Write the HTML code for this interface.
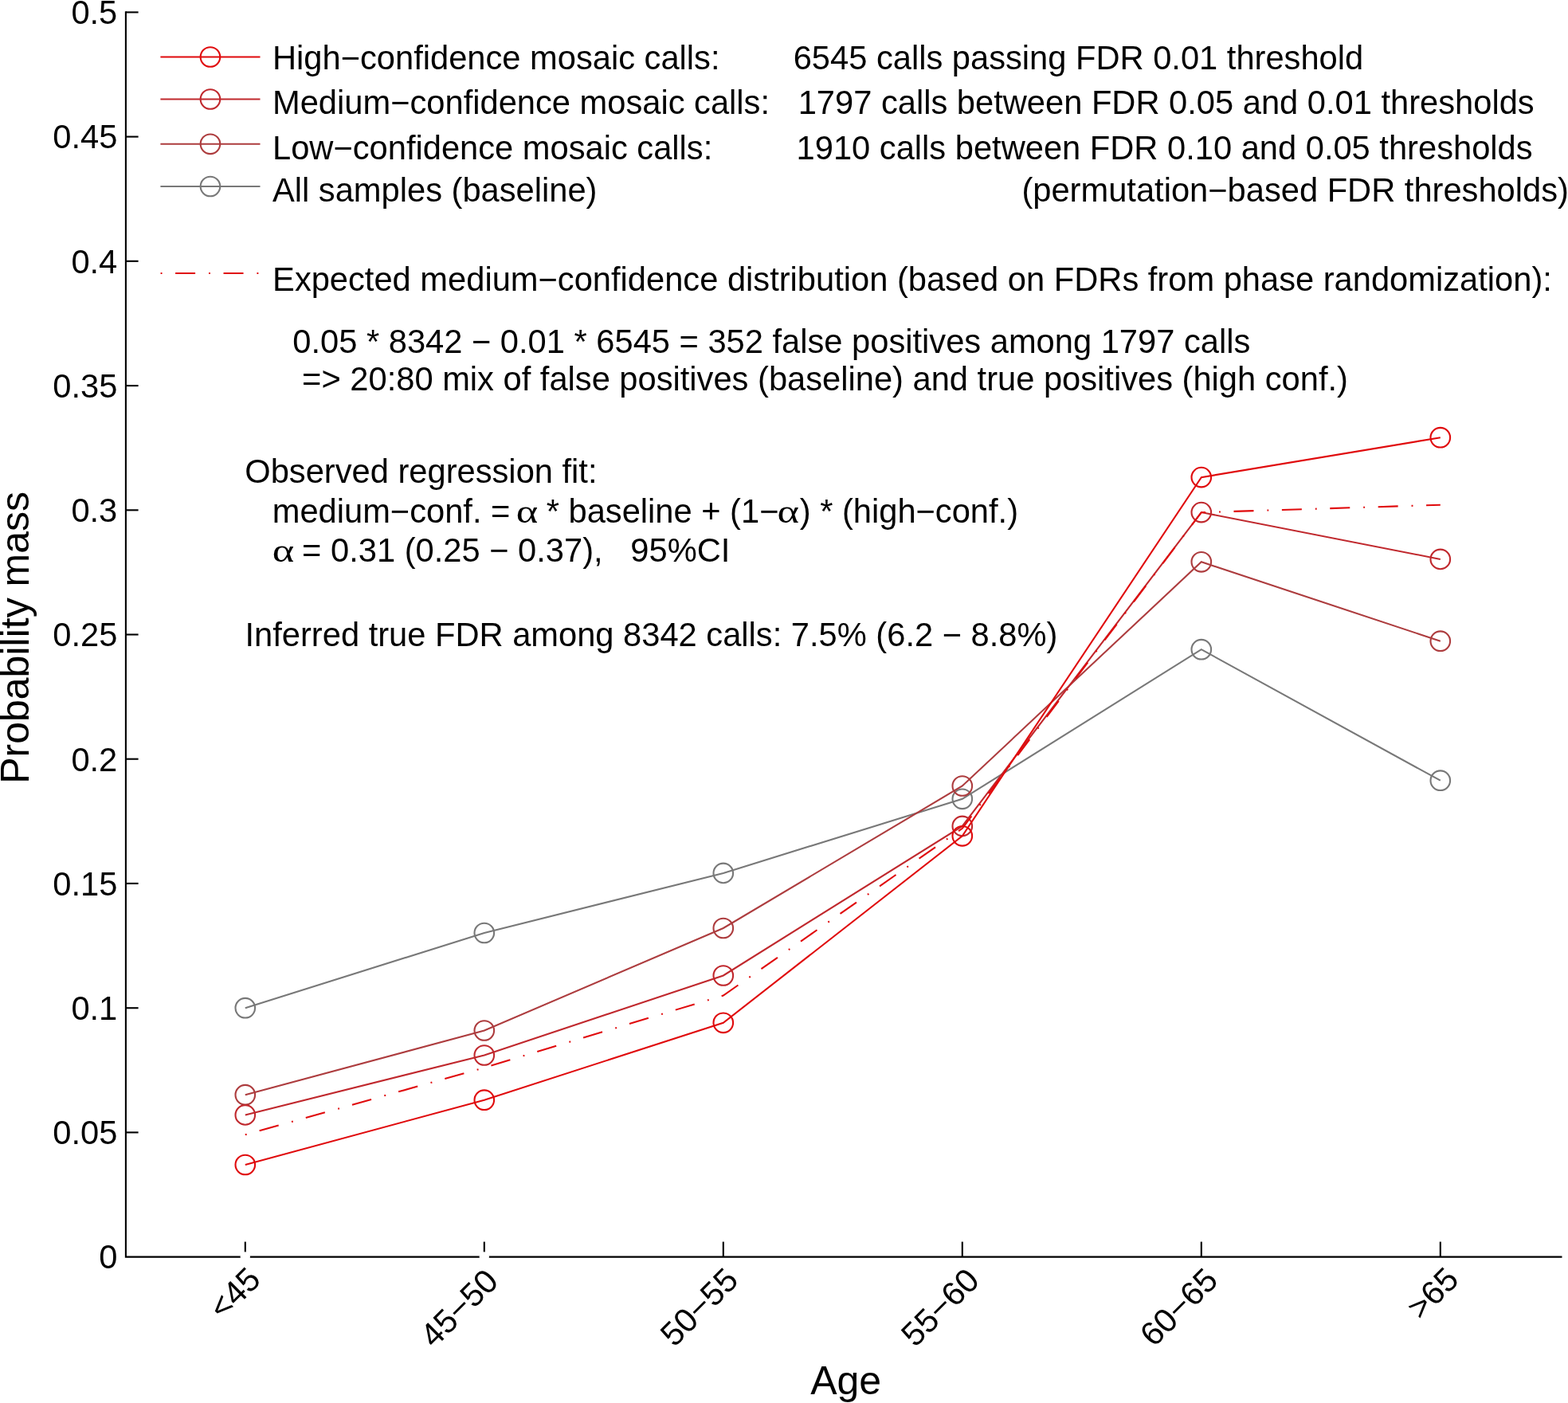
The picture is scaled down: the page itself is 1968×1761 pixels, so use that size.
<!DOCTYPE html><html><head><meta charset="utf-8"><title>Probability mass by age</title>
<style>html,body{margin:0;padding:0;background:#fff;}body{width:1968px;height:1761px;overflow:hidden;}svg{display:block;}text{font-family:"Liberation Sans", Arial, Helvetica, sans-serif;font-kerning:none;fill:#000;white-space:pre;}.s{font-family:"Liberation Serif", "Times New Roman", serif;}</style></head><body>
<svg width="1968" height="1761" viewBox="0 0 1968 1761">
<rect width="1968" height="1761" fill="#fff"/>
<g stroke="#000" stroke-width="2.1" fill="none" stroke-linecap="butt">
<path d="M157.9 14.3 V1577.6 H1960.5"/>
<path d="M157.9 15.4 H173.6"/>
<path d="M157.9 171.6 H173.6"/>
<path d="M157.9 327.8 H173.6"/>
<path d="M157.9 484.1 H173.6"/>
<path d="M157.9 640.3 H173.6"/>
<path d="M157.9 796.5 H173.6"/>
<path d="M157.9 952.7 H173.6"/>
<path d="M157.9 1108.9 H173.6"/>
<path d="M157.9 1265.2 H173.6"/>
<path d="M157.9 1421.4 H173.6"/>
<path d="M307.8 1558.6 V1577.6"/>
<path d="M607.8 1558.6 V1577.6"/>
<path d="M907.8 1558.6 V1577.6"/>
<path d="M1207.8 1558.6 V1577.6"/>
<path d="M1507.8 1558.6 V1577.6"/>
<path d="M1807.8 1558.6 V1577.6"/>
</g>
<circle cx="307.8" cy="1577.4" r="6.2" fill="#fff"/>
<circle cx="607.8" cy="1577.4" r="6.2" fill="#fff"/>
<g font-size="41.67" text-anchor="end">
<text x="147.3" y="30.2">0.5</text>
<text x="147.3" y="186.4">0.45</text>
<text x="147.3" y="342.6">0.4</text>
<text x="147.3" y="498.9">0.35</text>
<text x="147.3" y="655.1">0.3</text>
<text x="147.3" y="811.3">0.25</text>
<text x="147.3" y="967.5">0.2</text>
<text x="147.3" y="1123.7">0.15</text>
<text x="147.3" y="1280.0">0.1</text>
<text x="147.3" y="1436.2">0.05</text>
<text x="147.3" y="1592.4">0</text>
</g>
<g font-size="41.67" text-anchor="end">
<text transform="translate(329.4 1608.3) rotate(-45)">&lt;45</text>
<text transform="translate(627.6 1610.5) rotate(-45)">45−50</text>
<text transform="translate(928.9 1609.2) rotate(-45)">50−55</text>
<text transform="translate(1231.3 1609.6) rotate(-45)">55−60</text>
<text transform="translate(1530.9 1609.3) rotate(-45)">60−65</text>
<text transform="translate(1833.1 1608.3) rotate(-45)">&gt;65</text>
</g>
<text x="1017.2" y="1749.6" font-size="50">Age</text>
<text transform="translate(36.0 983.8) rotate(-90)" font-size="50">Probability mass</text>
<polyline points="307.8,1265.2 607.8,1171.0 907.8,1095.9 1207.8,1002.8 1507.8,815.2 1807.8,979.7" fill="none" stroke="#787878" stroke-width="2.08" stroke-linejoin="miter" />
<circle cx="307.8" cy="1265.2" r="12.3" fill="none" stroke="#787878" stroke-width="2.08"/><circle cx="607.8" cy="1171.0" r="12.3" fill="none" stroke="#787878" stroke-width="2.08"/><circle cx="907.8" cy="1095.9" r="12.3" fill="none" stroke="#787878" stroke-width="2.08"/><circle cx="1207.8" cy="1002.8" r="12.3" fill="none" stroke="#787878" stroke-width="2.08"/><circle cx="1507.8" cy="815.2" r="12.3" fill="none" stroke="#787878" stroke-width="2.08"/><circle cx="1807.8" cy="979.7" r="12.3" fill="none" stroke="#787878" stroke-width="2.08"/>
<polyline points="307.8,1374.2 607.8,1293.5 907.8,1165.0 1207.8,986.5 1507.8,705.3 1807.8,804.7" fill="none" stroke="#ad3c3e" stroke-width="2.08" stroke-linejoin="miter" />
<circle cx="307.8" cy="1374.2" r="12.3" fill="none" stroke="#ad3c3e" stroke-width="2.08"/><circle cx="607.8" cy="1293.5" r="12.3" fill="none" stroke="#ad3c3e" stroke-width="2.08"/><circle cx="907.8" cy="1165.0" r="12.3" fill="none" stroke="#ad3c3e" stroke-width="2.08"/><circle cx="1207.8" cy="986.5" r="12.3" fill="none" stroke="#ad3c3e" stroke-width="2.08"/><circle cx="1507.8" cy="705.3" r="12.3" fill="none" stroke="#ad3c3e" stroke-width="2.08"/><circle cx="1807.8" cy="804.7" r="12.3" fill="none" stroke="#ad3c3e" stroke-width="2.08"/>
<polyline points="307.8,1399.4 607.8,1324.5 907.8,1224.5 1207.8,1036.9 1507.8,643.1 1807.8,701.9" fill="none" stroke="#c0282d" stroke-width="2.08" stroke-linejoin="miter" />
<circle cx="307.8" cy="1399.4" r="12.3" fill="none" stroke="#c0282d" stroke-width="2.08"/><circle cx="607.8" cy="1324.5" r="12.3" fill="none" stroke="#c0282d" stroke-width="2.08"/><circle cx="907.8" cy="1224.5" r="12.3" fill="none" stroke="#c0282d" stroke-width="2.08"/><circle cx="1207.8" cy="1036.9" r="12.3" fill="none" stroke="#c0282d" stroke-width="2.08"/><circle cx="1507.8" cy="643.1" r="12.3" fill="none" stroke="#c0282d" stroke-width="2.08"/><circle cx="1807.8" cy="701.9" r="12.3" fill="none" stroke="#c0282d" stroke-width="2.08"/>
<polyline points="307.8,1424.3 607.8,1340.1 907.8,1249.5 1207.8,1039.8 1507.8,643.2 1807.8,633.7" fill="none" stroke="#e00a0c" stroke-width="2.08" stroke-linejoin="miter" stroke-dasharray="1.9 16.6 25.0 16.92"/>
<polyline points="307.8,1462.0 607.8,1380.7 907.8,1283.8 1207.8,1049.3 1507.8,599.1 1807.8,549.2" fill="none" stroke="#e00a0c" stroke-width="2.08" stroke-linejoin="miter" />
<circle cx="307.8" cy="1462.0" r="12.3" fill="none" stroke="#e00a0c" stroke-width="2.08"/><circle cx="607.8" cy="1380.7" r="12.3" fill="none" stroke="#e00a0c" stroke-width="2.08"/><circle cx="907.8" cy="1283.8" r="12.3" fill="none" stroke="#e00a0c" stroke-width="2.08"/><circle cx="1207.8" cy="1049.3" r="12.3" fill="none" stroke="#e00a0c" stroke-width="2.08"/><circle cx="1507.8" cy="599.1" r="12.3" fill="none" stroke="#e00a0c" stroke-width="2.08"/><circle cx="1807.8" cy="549.2" r="12.3" fill="none" stroke="#e00a0c" stroke-width="2.08"/>
<path d="M201.4 71.5 H326.5" stroke="#e00a0c" stroke-width="2.08" fill="none"/>
<circle cx="263.95" cy="71.5" r="12.3" fill="none" stroke="#e00a0c" stroke-width="2.08"/>
<path d="M201.4 124.5 H326.5" stroke="#c0282d" stroke-width="2.08" fill="none"/>
<circle cx="263.95" cy="124.5" r="12.3" fill="none" stroke="#c0282d" stroke-width="2.08"/>
<path d="M201.4 180.8 H326.5" stroke="#ad3c3e" stroke-width="2.08" fill="none"/>
<circle cx="263.95" cy="180.8" r="12.3" fill="none" stroke="#ad3c3e" stroke-width="2.08"/>
<path d="M201.4 234.0 H326.5" stroke="#787878" stroke-width="2.08" fill="none"/>
<circle cx="263.95" cy="234.0" r="12.3" fill="none" stroke="#787878" stroke-width="2.08"/>
<path d="M201.6 343.0 H326.5" stroke="#e00a0c" stroke-width="2.08" fill="none" stroke-dasharray="1.9 16.6 25.0 16.92"/>
<g font-size="41.67"><text x="342.0" y="87.1">High−confidence mosaic calls:</text><text x="995.7" y="87.1">6545 calls passing FDR 0.01 threshold</text><text x="342.0" y="143.4">Medium−confidence mosaic calls:</text><text x="1001.7" y="143.4">1797 calls between FDR 0.05 and 0.01 thresholds</text><text x="342.0" y="199.6">Low−confidence mosaic calls:</text><text x="999.6" y="199.6">1910 calls between FDR 0.10 and 0.05 thresholds</text><text x="342.0" y="252.7">All samples (baseline)</text><text x="1282.4" y="252.7">(permutation−based FDR thresholds)</text><text x="342.1" y="365.1">Expected medium−confidence distribution (based on FDRs from phase randomization):</text><text x="367.3" y="443.0">0.05 * 8342 − 0.01 * 6545 = 352 false positives among 1797 calls</text><text x="379.1" y="489.7">=&gt; 20:80 mix of false positives (baseline) and true positives (high conf.)</text><text x="307.3" y="605.7">Observed regression fit:</text><text x="307.5" y="811.4">Inferred true FDR among 8342 calls: 7.5% (6.2 − 8.8%)</text></g>
<g font-size="41.67">
<text x="341.7" y="655.5">medium−conf. =</text>
<text class="s" transform="translate(647.8 655.5) scale(1.26 1)" font-size="41.67">α</text>
<text x="685.7" y="655.5">* baseline + (1−</text>
<text class="s" transform="translate(975.4 655.5) scale(1.26 1)" font-size="41.67">α</text>
<text x="1003.7" y="655.5">) * (high−conf.)</text>
<text class="s" transform="translate(341.7 705.3) scale(1.26 1)" font-size="41.67">α</text>
<text x="379.1" y="705.3">= 0.31 (0.25 − 0.37),   95%CI</text>
</g>
</svg></body></html>
